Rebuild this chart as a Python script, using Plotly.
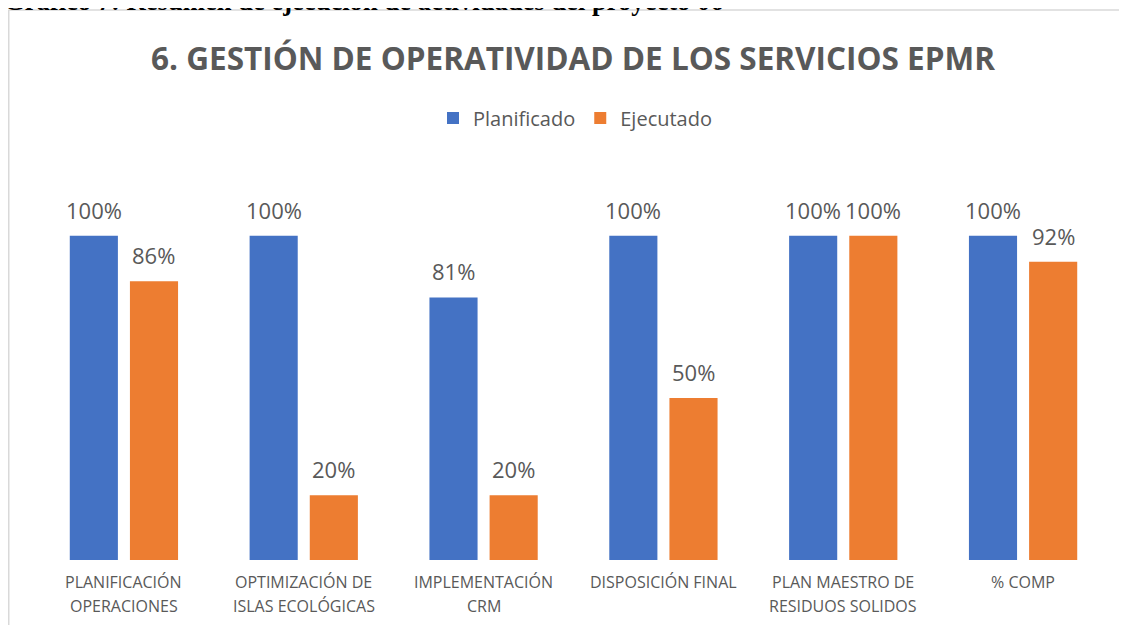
import plotly.graph_objects as go

categories = ["PLANIFICACIÓN<br>OPERACIONES", "OPTIMIZACIÓN DE<br>ISLAS ECOLÓGICAS",
              "IMPLEMENTACIÓN<br>CRM", "DISPOSICIÓN FINAL",
              "PLAN MAESTRO DE<br>RESIDUOS SOLIDOS", "% COMP"]
planificado = [1.00, 1.00, 0.81, 1.00, 1.00, 1.00]
ejecutado = [0.86, 0.20, 0.20, 0.50, 1.00, 0.92]

OFF = 8  # page body margin
W, H = 1127 - OFF, 625 - OFF
L, R, T, B = 34 - OFF, 14, 171 - OFF, 65
PW, PH = W - L - R, H - T - B
GRAY = "#595959"
FONT = "Open Sans"

def px_x(x):
    return (x - OFF - L) / PW

def px_y(y):
    return (H - B - (y - OFF)) / PH

BLUE, ORANGE = "#4472C4", "#ED7D31"
BARGAP, GROUPGAP = 0.331, 0.2
off = (1 - BARGAP) / 4

idx = list(range(len(categories)))
fig = go.Figure()
fig.add_trace(go.Bar(x=idx, y=planificado, name="Planificado", marker_color=BLUE, marker_line_width=0))
fig.add_trace(go.Bar(x=idx, y=ejecutado, name="Ejecutado", marker_color=ORANGE, marker_line_width=0))

annotations = []
for i, (p, e) in enumerate(zip(planificado, ejecutado)):
    for val, dx in ((p, -off), (e, off)):
        annotations.append(dict(x=i + dx, y=val, xref="x", yref="y", text=f"{round(val*100)}%",
                                showarrow=False, yanchor="middle", yshift=26,
                                font=dict(family=FONT, size=22, color=GRAY)))
for i, c in enumerate(categories):
    for k, line in enumerate(c.split("<br>")):
        annotations.append(dict(x=i, y=0, xref="x", yref="y", text=line, showarrow=False,
                                yanchor="middle", yshift=-22 - 24 * k,
                                font=dict(family=FONT, size=16, color=GRAY)))
annotations.append(dict(x=px_x(572.5), y=px_y(57), xref="paper", yref="paper",
                        text="<b>6. GESTIÓN DE OPERATIVIDAD DE LOS SERVICIOS EPMR</b>",
                        showarrow=False, xanchor="center", yanchor="middle",
                        font=dict(family=FONT, size=31.5, color=GRAY)))
annotations.append(dict(x=px_x(2), y=px_y(1), xref="paper", yref="paper",
                        text="<b>Gráfico 7: Resumen de ejecución de actividades del proyecto 06</b>",
                        showarrow=False, xanchor="left", yanchor="middle",
                        font=dict(family="Liberation Serif", size=26.6, color="black")))

shapes = [
    dict(type="line", xref="paper", yref="paper", x0=px_x(8.5), x1=px_x(1127), y0=px_y(10), y1=px_y(10),
         line=dict(color="#D9D9D9", width=1.5)),
    dict(type="line", xref="paper", yref="paper", x0=px_x(8.75), x1=px_x(8.75), y0=px_y(10), y1=px_y(625),
         line=dict(color="#D9D9D9", width=1.5)),
]

fig.update_layout(
    width=W, height=H, margin=dict(l=L, r=R, t=T, b=B, autoexpand=False),
    paper_bgcolor="white", plot_bgcolor="white",
    barmode="group", bargap=BARGAP, bargroupgap=GROUPGAP,
    xaxis=dict(range=[-0.5, len(categories) - 0.5], showticklabels=False, showgrid=False,
               zeroline=False, showline=False, fixedrange=True),
    yaxis=dict(range=[0, 1.2], visible=False, fixedrange=True),
    legend=dict(orientation="h", x=px_x(575), y=px_y(118), xanchor="center", yanchor="middle",
                font=dict(family=FONT, size=20, color=GRAY), traceorder="normal"),
    annotations=annotations, shapes=shapes, showlegend=True,
)

fig.write_html("out.html")
